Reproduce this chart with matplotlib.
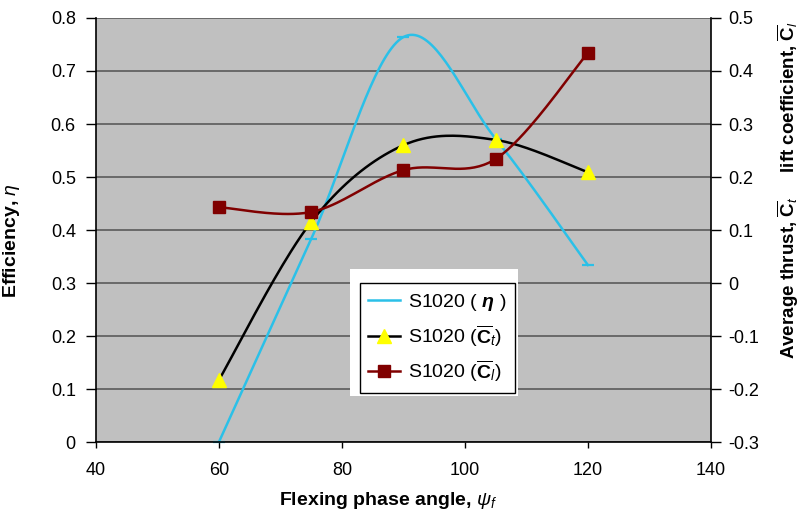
import numpy as np
import matplotlib.pyplot as plt
from matplotlib.patches import Rectangle
from matplotlib.ticker import FuncFormatter

plt.rcParams['font.family'] = ['Liberation Sans', 'DejaVu Sans']
plt.rcParams['mathtext.fontset'] = 'custom'
plt.rcParams['mathtext.rm'] = 'Liberation Sans'
plt.rcParams['mathtext.it'] = 'Liberation Sans:italic'
plt.rcParams['mathtext.bf'] = 'Liberation Sans:bold'
plt.rcParams['mathtext.bfit'] = 'Liberation Sans:bold:italic'
plt.rcParams['axes.unicode_minus'] = False

# Flexing phase angle (deg)
psi_f = [60, 75, 90, 105, 120]
# S1020 efficiency (left axis)
eta = [0.0, 0.383, 0.764, 0.572, 0.334]
# S1020 mean thrust and lift coefficients (right axis)
ct_mean = [-0.183, 0.115, 0.260, 0.270, 0.209]
cl_mean = [0.143, 0.134, 0.213, 0.234, 0.434]


def smooth(x, y, n=40):
    # Excel-style smoothed line: cubic Bezier segments with Catmull-Rom tangents
    p = np.column_stack([x, y]).astype(float)
    pts = np.vstack([p[0], p, p[-1]])
    t = np.linspace(0, 1, n)[:, None]
    out = []
    for i in range(1, len(pts) - 2):
        p0, p3 = pts[i], pts[i + 1]
        c1 = p0 + (pts[i + 1] - pts[i - 1]) / 6
        c2 = p3 - (pts[i + 2] - pts[i]) / 6
        seg = ((1 - t) ** 3) * p0 + 3 * ((1 - t) ** 2) * t * c1 + 3 * (1 - t) * t ** 2 * c2 + t ** 3 * p3
        out.append(seg if i == 1 else seg[1:])
    out = np.vstack(out)
    return out[:, 0], out[:, 1]


fig = plt.figure(figsize=(8.06, 5.14), dpi=100)
ax = fig.add_axes([0.119, 0.140, 0.763, 0.825])
ax2 = ax.twinx()

ax.set_facecolor('#C0C0C0')
ax.set_xlim(40, 140)
ax.set_ylim(0, 0.8)
ax2.set_ylim(-0.3, 0.5)
ax.set_xticks(np.arange(40, 141, 20))
ax.set_yticks(np.arange(0, 0.81, 0.1))
ax2.set_yticks(np.arange(-0.3, 0.51, 0.1))
fmt = FuncFormatter(lambda v, pos: f'{round(v, 2):g}')
ax.yaxis.set_major_formatter(fmt)
ax2.yaxis.set_major_formatter(fmt)
ax.grid(axis='y', color='#5a5a5a', linewidth=1.2)
ax.set_axisbelow(True)

for a in (ax, ax2):
    a.spines['top'].set_visible(False)
    a.tick_params(labelsize=13, direction='out', width=1, colors='black')
ax.tick_params(axis='x', length=4.5, pad=10)
ax.tick_params(axis='y', length=7, pad=7.5)
ax2.tick_params(axis='y', length=7, pad=5.5)
ax.spines['right'].set_visible(False)
ax2.spines['left'].set_visible(False)
ax2.spines['bottom'].set_visible(False)
ax2.spines['right'].set_linewidth(1.2)
ax.spines['left'].set_linewidth(1.2)
ax.spines['bottom'].set_linewidth(1.2)

# efficiency curve
xs, ys = smooth(psi_f, eta)
l_eta, = ax.plot(xs, ys, color='#2BC0E8', lw=1.8)
ax.plot(psi_f, eta, ls='none', marker='_', ms=9, mew=1.6, color='#2BC0E8', clip_on=False)

# thrust and lift curves
xs, ys = smooth(psi_f, ct_mean)
ax2.plot(xs, ys, color='black', lw=1.8)
ax2.plot(psi_f, ct_mean, ls='none', marker='^', ms=10, color='#FFFF00', mec='#FFFF00')
xs, ys = smooth(psi_f, cl_mean)
ax2.plot(xs, ys, color='#800000', lw=1.8)
ax2.plot(psi_f, cl_mean, ls='none', marker='s', ms=8.5, color='#800000', mec='#800000')

h_ct = plt.Line2D([], [], color='black', lw=1.8, marker='^', ms=10, mfc='#FFFF00', mec='#FFFF00')
h_cl = plt.Line2D([], [], color='#800000', lw=1.8, marker='s', ms=8.5)

ax.set_xlabel(r'Flexing phase angle, $\mathit{\psi_f}$', fontsize=14, fontweight='bold')
ax.set_ylabel(r'Efficiency, $\mathit{\eta}$', fontsize=14, fontweight='bold')
ax2.set_ylabel(r'Average thrust, $\overline{\mathbf{C}}_{\mathit{t}}$     lift coefficient, $\overline{\mathbf{C}}_{\mathit{l}}$',
               fontsize=13.5, fontweight='bold')
ax.xaxis.set_label_coords(0.475, -0.112)
ax.yaxis.set_label_coords(-0.121, 0.474)
ax2.yaxis.set_label_coords(1.105, 0.594)

# white backing behind the legend box
ax2.add_patch(Rectangle((0.413, 0.108), 0.273, 0.300, transform=ax2.transAxes,
                        facecolor='white', edgecolor='none', zorder=4))
leg = ax2.legend([l_eta, h_ct, h_cl],
                 [r'S1020 ( $\mathbfit{\eta}$ )',
                  r'S1020 ($\overline{\mathbf{C}}_{\mathit{t}}$)',
                  r'S1020 ($\overline{\mathbf{C}}_{\mathit{l}}$)'],
                 loc='lower left', bbox_to_anchor=(0.429, 0.116), borderaxespad=0,
                 fontsize=14, frameon=True, fancybox=False, framealpha=1,
                 edgecolor='black', handlelength=1.6, handletextpad=0.45,
                 labelspacing=0.5, borderpad=0.45)
leg.get_frame().set_linewidth(1.0)
leg.set_zorder(5)

fig.savefig('out.png', dpi=100)
